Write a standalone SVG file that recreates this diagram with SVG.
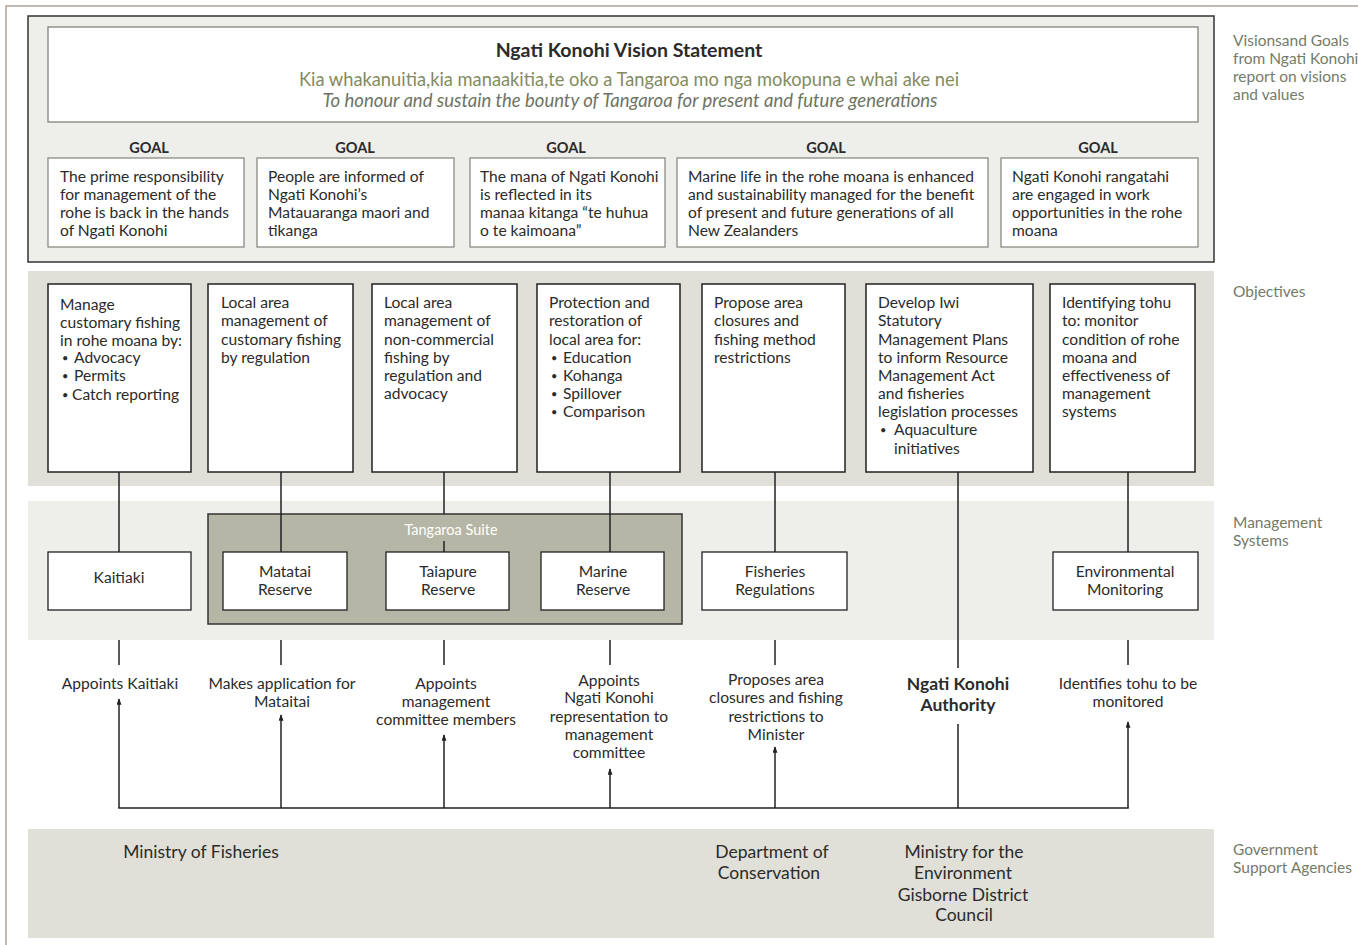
<svg xmlns="http://www.w3.org/2000/svg" width="1358" height="945" viewBox="0 0 1358 945">
<style>
text{font-family:Lato,"Liberation Sans",sans-serif;fill:#2b2b2b;font-size:15.6px}
.c{text-anchor:middle}
.side{fill:#757b69;font-size:15.5px}
.goalh{font-weight:bold;font-size:14.5px;text-anchor:middle}
.b{font-size:11px}
.gbox{fill:#fff;stroke:#80847a;stroke-width:1.2}
.obox{fill:#fff;stroke:#222;stroke-width:1.5}
.mbox{fill:#fff;stroke:#222;stroke-width:1.3}
.ln{stroke:#222;stroke-width:1.5;fill:none}
.ar{stroke:#222;stroke-width:1.5;fill:none;marker-end:url(#ah)}
.gov{font-size:17.5px}
.auth{font-weight:bold;font-size:17.5px}
</style>
<defs>
<marker id="ah" viewBox="0 0 8 6" refX="7" refY="3" markerWidth="7" markerHeight="5" orient="auto" markerUnits="userSpaceOnUse">
<path d="M0,0 L8,3 L0,6 z" fill="#222"/>
</marker>
</defs>
<rect width="1358" height="945" fill="#fff"/>
<path d="M6,945 V6 H1358" fill="none" stroke="#b0a396" stroke-width="1.5"/>

<!-- bands -->
<g id="band-vision">
<rect x="28" y="16" width="1186" height="246" fill="#eeeeea" stroke="#333" stroke-width="1.5"/>
</g>
<g id="band-objectives"><rect x="28" y="271" width="1186" height="215" fill="#e0dfd8"/></g>
<g id="band-management"><rect x="28" y="501" width="1186" height="139" fill="#eeeeea"/></g>
<g id="band-government"><rect x="28" y="829" width="1186" height="109" fill="#e0dfd8"/></g>

<!-- side labels -->
<g id="side-labels">
<text class="side" x="1233" y="46">Visionsand Goals</text>
<text class="side" x="1233" y="64">from Ngati Konohi</text>
<text class="side" x="1233" y="82">report on visions</text>
<text class="side" x="1233" y="100">and values</text>
<text class="side" x="1233" y="297">Objectives</text>
<text class="side" x="1233" y="528">Management</text>
<text class="side" x="1233" y="546">Systems</text>
<text class="side" x="1233" y="855">Government</text>
<text class="side" x="1233" y="873">Support Agencies</text>
</g>

<g id="vision">
<rect x="48" y="27" width="1150" height="95" fill="#fff" stroke="#80847a" stroke-width="1.3"/>
<text class="c" x="629" y="57" style="font-weight:bold;font-size:19.5px">Ngati Konohi Vision Statement</text>
<text class="c" x="629" y="86" style="fill:#838b5f;font-size:18.3px">Kia whakanuitia,kia manaakitia,te oko a Tangaroa mo nga mokopuna e whai ake nei</text>
<text class="c" x="630" y="107" style="fill:#6e7462;font-size:18.5px;font-style:italic">To honour and sustain the bounty of Tangaroa for present and future generations</text>
</g>

<g id="goal1">
<text class="goalh" x="149" y="153">GOAL</text>
<rect class="gbox" x="48" y="158" width="196" height="89"/>
<text x="60" y="182">The prime responsibility</text>
<text x="60" y="200">for management of the</text>
<text x="60" y="218">rohe is back in the hands</text>
<text x="60" y="236">of Ngati Konohi</text>
</g>
<g id="goal2">
<text class="goalh" x="355" y="153">GOAL</text>
<rect class="gbox" x="257" y="158" width="197" height="89"/>
<text x="268" y="182">People are informed of</text>
<text x="268" y="200">Ngati Konohi’s</text>
<text x="268" y="218">Matauaranga maori and</text>
<text x="268" y="236">tikanga</text>
</g>
<g id="goal3">
<text class="goalh" x="566" y="153">GOAL</text>
<rect class="gbox" x="470" y="158" width="195" height="89"/>
<text x="480" y="182">The mana of Ngati Konohi</text>
<text x="480" y="200">is reflected in its</text>
<text x="480" y="218">manaa kitanga “te huhua</text>
<text x="480" y="236">o te kaimoana”</text>
</g>
<g id="goal4">
<text class="goalh" x="826" y="153">GOAL</text>
<rect class="gbox" x="677" y="158" width="311" height="89"/>
<text x="688" y="182">Marine life in the rohe moana is enhanced</text>
<text x="688" y="200">and sustainability managed for the benefit</text>
<text x="688" y="218">of present and future generations of all</text>
<text x="688" y="236">New Zealanders</text>
</g>
<g id="goal5">
<text class="goalh" x="1098" y="153">GOAL</text>
<rect class="gbox" x="1001" y="158" width="197" height="89"/>
<text x="1012" y="182">Ngati Konohi rangatahi</text>
<text x="1012" y="200">are engaged in work</text>
<text x="1012" y="218">opportunities in the rohe</text>
<text x="1012" y="236">moana</text>
</g>

<!-- objectives -->
<g id="obj1">
<rect class="obox" x="48" y="284" width="143" height="188"/>
<text x="60" y="310">Manage</text>
<text x="60" y="328">customary fishing</text>
<text x="60" y="346">in rohe moana by:</text>
<text class="b" x="62" y="362">•</text><text x="74" y="363">Advocacy</text>
<text class="b" x="62" y="380">•</text><text x="74" y="381">Permits</text>
<text class="b" x="62" y="399">•</text><text x="72" y="400">Catch reporting</text>
</g>
<g id="obj2">
<rect class="obox" x="208" y="284" width="145" height="188"/>
<text x="221" y="308">Local area</text>
<text x="221" y="326">management of</text>
<text x="221" y="345">customary fishing</text>
<text x="221" y="363">by regulation</text>
</g>
<g id="obj3">
<rect class="obox" x="372" y="284" width="145" height="188"/>
<text x="384" y="308">Local area</text>
<text x="384" y="326">management of</text>
<text x="384" y="345">non-commercial</text>
<text x="384" y="363">fishing by</text>
<text x="384" y="381">regulation and</text>
<text x="384" y="399">advocacy</text>
</g>
<g id="obj4">
<rect class="obox" x="537" y="284" width="143" height="188"/>
<text x="549" y="308">Protection and</text>
<text x="549" y="326">restoration of</text>
<text x="549" y="345">local area for:</text>
<text class="b" x="551" y="362">•</text><text x="563" y="363">Education</text>
<text class="b" x="551" y="380">•</text><text x="563" y="381">Kohanga</text>
<text class="b" x="551" y="398">•</text><text x="563" y="399">Spillover</text>
<text class="b" x="551" y="416">•</text><text x="563" y="417">Comparison</text>
</g>
<g id="obj5">
<rect class="obox" x="702" y="284" width="143" height="188"/>
<text x="714" y="308">Propose area</text>
<text x="714" y="326">closures and</text>
<text x="714" y="345">fishing method</text>
<text x="714" y="363">restrictions</text>
</g>
<g id="obj6">
<rect class="obox" x="866" y="284" width="167" height="188"/>
<text x="878" y="308">Develop Iwi</text>
<text x="878" y="326">Statutory</text>
<text x="878" y="345">Management Plans</text>
<text x="878" y="363">to inform Resource</text>
<text x="878" y="381">Management Act</text>
<text x="878" y="399">and fisheries</text>
<text x="878" y="417">legislation processes</text>
<text class="b" x="880" y="434">•</text><text x="894" y="435">Aquaculture</text>
<text x="894" y="454">initiatives</text>
</g>
<g id="obj7">
<rect class="obox" x="1050" y="284" width="145" height="188"/>
<text x="1062" y="308">Identifying tohu</text>
<text x="1062" y="326">to: monitor</text>
<text x="1062" y="345">condition of rohe</text>
<text x="1062" y="363">moana and</text>
<text x="1062" y="381">effectiveness of</text>
<text x="1062" y="399">management</text>
<text x="1062" y="417">systems</text>
</g>

<!-- management systems -->
<g id="tangaroa-suite">
<rect x="208" y="514" width="474" height="110" fill="#b6b6a6" stroke="#333" stroke-width="1.5"/>
<text class="c" x="451" y="535" style="fill:#fff;font-size:14.5px">Tangaroa Suite</text>
</g>
<g id="kaitiaki">
<rect class="mbox" x="48" y="552" width="143" height="58"/>
<text class="c" x="119" y="583">Kaitiaki</text>
</g>
<g id="matatai">
<rect class="mbox" x="223" y="552" width="124" height="58"/>
<text class="c" x="285" y="577">Matatai</text>
<text class="c" x="285" y="595">Reserve</text>
</g>
<g id="taiapure">
<rect class="mbox" x="386" y="552" width="123" height="58"/>
<text class="c" x="448" y="577">Taiapure</text>
<text class="c" x="448" y="595">Reserve</text>
</g>
<g id="marine">
<rect class="mbox" x="541" y="552" width="123" height="58"/>
<text class="c" x="603" y="577">Marine</text>
<text class="c" x="603" y="595">Reserve</text>
</g>
<g id="fisheries">
<rect class="mbox" x="702" y="552" width="145" height="58"/>
<text class="c" x="775" y="577">Fisheries</text>
<text class="c" x="775" y="595">Regulations</text>
</g>
<g id="envmon">
<rect class="mbox" x="1053" y="552" width="145" height="58"/>
<text class="c" x="1125" y="577">Environmental</text>
<text class="c" x="1125" y="595">Monitoring</text>
</g>

<!-- connectors -->
<g id="connectors">
<path class="ln" d="M119,472 V552"/>
<path class="ln" d="M281,472 V552"/>
<path class="ln" d="M444,472 V514"/>
<path class="ln" d="M444,541 V552"/>
<path class="ln" d="M610,472 V552"/>
<path class="ln" d="M775,472 V552"/>
<path class="ln" d="M958,472 V668"/>
<path class="ln" d="M1128,472 V552"/>
<path class="ln" d="M119,640 V665"/>
<path class="ln" d="M281,640 V665"/>
<path class="ln" d="M444,640 V665"/>
<path class="ln" d="M610,640 V665"/>
<path class="ln" d="M775,640 V665"/>
<path class="ln" d="M1128,640 V665"/>
<path class="ln" d="M118.25,808 H1128.75"/>
<path class="ln" d="M958,808 V724"/>
<path class="ar" d="M119,808 V699"/>
<path class="ar" d="M281,808 V715"/>
<path class="ar" d="M444,808 V735"/>
<path class="ar" d="M610,808 V769"/>
<path class="ar" d="M775,808 V747"/>
<path class="ar" d="M1128,808 V722"/>
</g>

<!-- action labels -->
<g id="lbl-kaitiaki"><text class="c" x="120" y="689">Appoints Kaitiaki</text></g>
<g id="lbl-matatai">
<text class="c" x="282" y="689">Makes application for</text>
<text class="c" x="282" y="707">Mataitai</text>
</g>
<g id="lbl-taiapure">
<text class="c" x="446" y="689">Appoints</text>
<text class="c" x="446" y="707">management</text>
<text class="c" x="446" y="725">committee members</text>
</g>
<g id="lbl-marine">
<text class="c" x="609" y="686">Appoints</text>
<text class="c" x="609" y="703">Ngati Konohi</text>
<text class="c" x="609" y="722">representation to</text>
<text class="c" x="609" y="740">management</text>
<text class="c" x="609" y="758">committee</text>
</g>
<g id="lbl-fisheries">
<text class="c" x="776" y="685">Proposes area</text>
<text class="c" x="776" y="703">closures and fishing</text>
<text class="c" x="776" y="722">restrictions to</text>
<text class="c" x="776" y="740">Minister</text>
</g>
<g id="lbl-authority">
<text class="c auth" x="958" y="690">Ngati Konohi</text>
<text class="c auth" x="958" y="711">Authority</text>
</g>
<g id="lbl-envmon">
<text class="c" x="1128" y="689">Identifies tohu to be</text>
<text class="c" x="1128" y="707">monitored</text>
</g>

<!-- government agencies -->
<g id="gov-mfish"><text class="c gov" x="201" y="858">Ministry of Fisheries</text></g>
<g id="gov-doc">
<text class="c gov" x="772" y="858">Department of</text>
<text class="c gov" x="769" y="879">Conservation</text>
</g>
<g id="gov-mfe">
<text class="c gov" x="964" y="858">Ministry for the</text>
<text class="c gov" x="963" y="879">Environment</text>
<text class="c gov" x="963" y="901">Gisborne District</text>
<text class="c gov" x="964" y="921">Council</text>
</g>
</svg>
